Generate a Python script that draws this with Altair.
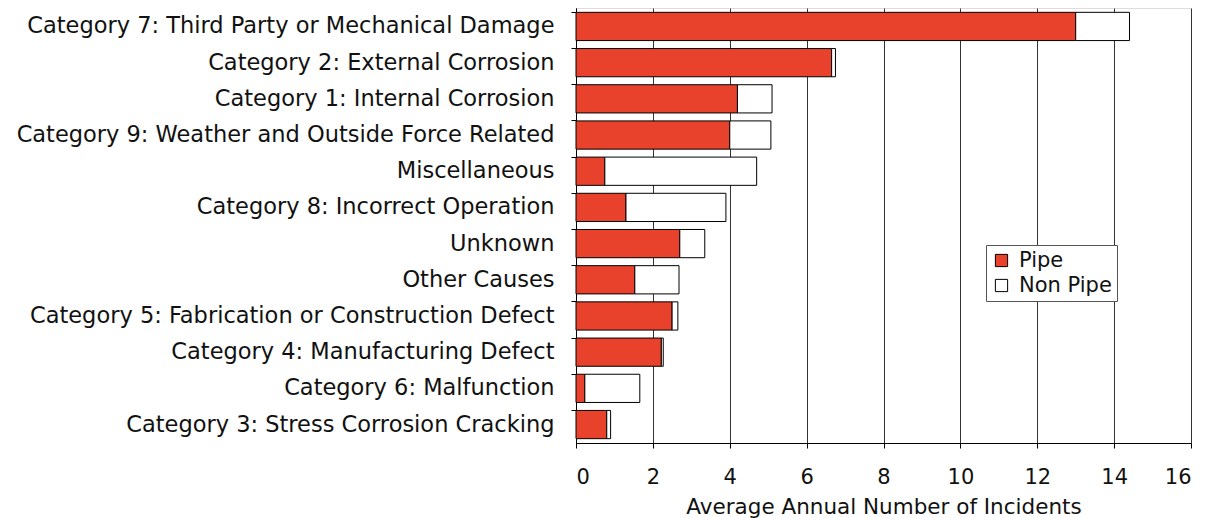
import altair as alt
import pandas as pd

categories = [
    "Category 7: Third Party or Mechanical Damage",
    "Category 2: External Corrosion",
    "Category 1: Internal Corrosion",
    "Category 9: Weather and Outside Force Related",
    "Miscellaneous",
    "Category 8: Incorrect Operation",
    "Unknown",
    "Other Causes",
    "Category 5: Fabrication or Construction Defect",
    "Category 4: Manufacturing Defect",
    "Category 6: Malfunction",
    "Category 3: Stress Corrosion Cracking",
]
pipe = [13.0, 6.65, 4.2, 4.0, 0.75, 1.3, 2.7, 1.53, 2.5, 2.22, 0.23, 0.8]
non_pipe = [1.4, 0.1, 0.9, 1.07, 3.95, 2.6, 0.65, 1.15, 0.15, 0.05, 1.43, 0.1]
series = ["Pipe", "Non Pipe"]
x_ticks = [0, 2, 4, 6, 8, 10, 12, 14, 16]

rows = []
for c, p, n in zip(categories, pipe, non_pipe):
    rows.append({"category": c, "series": "Pipe", "value": p, "ord": 0})
    rows.append({"category": c, "series": "Non Pipe", "value": n, "ord": 1})
df = pd.DataFrame(rows)

FONT = "DejaVu Sans"

chart = alt.Chart(df).mark_bar(stroke="black", strokeWidth=1).encode(
    y=alt.Y("category:N", sort=categories, title=None,
            scale=alt.Scale(paddingInner=0.22, paddingOuter=0.12),
            axis=alt.Axis(labelFontSize=22.5, labelFont=FONT, labelColor="#111111",
                          labelPadding=17, tickSize=5, tickColor="black",
                          domainColor="black", labelLimit=800, bandPosition=0,
                          grid=False)),
    x=alt.X("value:Q", stack="zero", title="Average Annual Number of Incidents",
            scale=alt.Scale(domain=[0, 16], nice=False),
            axis=alt.Axis(values=x_ticks, labelFontSize=21, labelFont=FONT,
                          labelColor="#111111", titleFontSize=21.5, titleFont=FONT,
                          titleFontWeight="normal", titleColor="#111111",
                          titlePadding=9, labelPadding=18, tickSize=5,
                          tickColor="black", domainColor="black",
                          grid=True, gridColor="#333333", gridWidth=1)),
    fill=alt.Fill("series:N", scale=alt.Scale(domain=series, range=["#E8412C", "#FFFFFF"]),
                  legend=alt.Legend(title=None, orient="none", legendX=410, legendY=237,
                                    labelFontSize=21, labelFont=FONT, labelColor="#111111",
                                    symbolType="square", symbolSize=150,
                                    symbolStrokeColor="black", symbolStrokeWidth=1,
                                    fillColor="white", strokeColor="#555555",
                                    padding=5, rowPadding=3, labelOffset=7)),
    order=alt.Order("ord:Q"),
).properties(
    width=615, height=435,
).configure_view(
    stroke="black", strokeWidth=1
).configure(
    background="white", padding={"left": 8, "top": 0, "right": 2, "bottom": 2}
)

chart.save("out.html", embed_options={"renderer": "svg", "actions": False})
